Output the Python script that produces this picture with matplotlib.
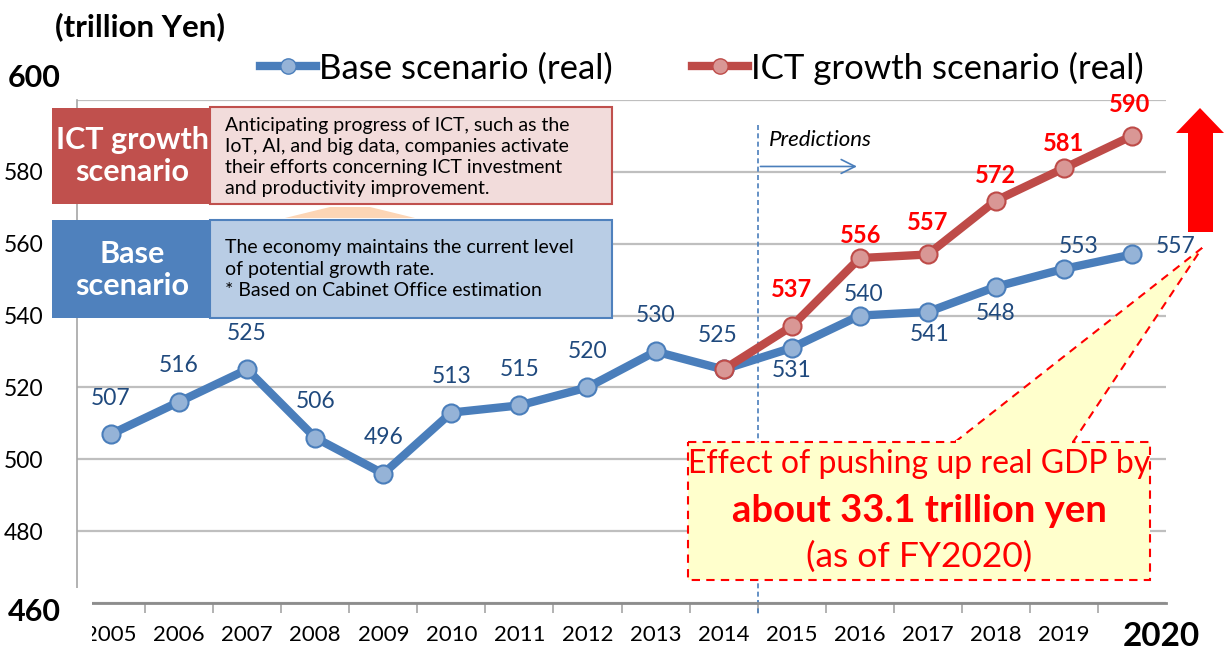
import numpy as np
import matplotlib.pyplot as plt
from matplotlib.patches import Rectangle, Polygon
from matplotlib.lines import Line2D

plt.rcParams['font.family'] = ['Lato', 'DejaVu Sans']

years = [str(y) for y in range(2005, 2021)]
base = [507, 516, 525, 506, 496, 513, 515, 520, 530, 525, 531, 540, 541, 548, 553, 557]
ict_years = [str(y) for y in range(2014, 2021)]
ict = [525, 537, 556, 557, 572, 581, 590]

# label offsets from each point, in pixels (dx, dy up)
base_off = [(0, 36)] * 9 + [(-6, 34), (0, -23), (4, 21), (2, -23), (0, -27), (15, 22), (44, 8)]
ict_off = [(0, 37), (1, 23), (0, 32), (0, 25), (0, 25), (-2, 31)]

BLUE = '#4A7EBB'
BLUE_FACE = '#95B3D7'
RED = '#BE4B48'
RED_FACE = '#D99795'
NAVY = '#1F497D'

W, H = 1227, 655
fig = plt.figure(figsize=(W / 100, H / 100), dpi=100)
ax = fig.add_axes([77 / W, 1 - 603 / H, (1166 - 77) / W, (603 - 100) / H])

x = np.arange(len(years))
xi = np.arange(years.index(ict_years[0]), len(years))

ax.plot(x, base, color=BLUE, lw=6, marker='o', ms=13, mfc=BLUE_FACE, mec=BLUE, mew=1.5,
        zorder=4, solid_capstyle='round')
ax.plot(xi, ict, color=RED, lw=6, marker='o', ms=13, mfc=RED_FACE, mec=RED, mew=1.5,
        zorder=5, solid_capstyle='round')

for xv, v, (dx, dy) in zip(x, base, base_off):
    ax.annotate(str(v), (xv, v), xytext=(dx * 0.72, dy * 0.72), textcoords='offset points',
                ha='center', va='center', fontsize=16.5, color=NAVY)
for xv, v, (dx, dy) in zip(xi[1:], ict[1:], ict_off):
    ax.annotate(str(v), (xv, v), xytext=(dx * 0.72, dy * 0.72), textcoords='offset points',
                ha='center', va='center', fontsize=17, color='red', fontweight='bold')

ax.set_xlim(-0.5, len(years) - 0.5)
ax.set_ylim(460, 600)
ax.set_yticks(range(460, 601, 20))
ax.set_yticklabels([''] + [str(v) for v in range(480, 600, 20)] + [''])
ax.tick_params(axis='y', length=0, labelsize=16.5, pad=24)
ax.grid(axis='y', color='#BFBFBF', lw=1.6)
ax.set_axisbelow(True)
ax.set_xticks(x)
ax.set_xticklabels(years[:-1] + [''])
ax.set_xticks(x[:-1] + 0.5, minor=True)
ax.tick_params(axis='x', which='major', length=0, labelsize=16, pad=16)
ax.tick_params(axis='x', which='minor', length=7, width=1.2, color='#A6A6A6')
for s in ['top', 'right']:
    ax.spines[s].set_visible(False)
ax.spines['bottom'].set_color('#8C8C8C')
ax.spines['bottom'].set_linewidth(2)
ax.spines['left'].set_color('#A6A6A6')
ax.spines['left'].set_linewidth(1.2)

# predictions marker
ax.plot([9.5, 9.5], [593, 457], color=BLUE, lw=1.2, ls=(0, (3, 2)), clip_on=False, zorder=2)
ax.text(9.66, 589, 'Predictions', style='italic', fontsize=16, ha='left', va='center')
ax.annotate('', xy=(11.0, 581.5), xytext=(9.5, 581.5),
            arrowprops=dict(arrowstyle='->', color=BLUE, lw=1.2, mutation_scale=25))

# overlay in pixel coordinates
ov = fig.add_axes([0, 0, 1, 1], zorder=10)
ov.set_xlim(0, W)
ov.set_ylim(H, 0)
ov.axis('off')

ov.text(55, 27, '(trillion Yen)', fontsize=22.5, fontweight='bold', ha='left', va='center')
ov.text(8, 78, '600', fontsize=22, fontweight='bold', ha='left', va='center')
ov.add_patch(Rectangle((0, 588), 92, 67, facecolor='white', edgecolor='none'))
ov.text(8, 612, '460', fontsize=22, fontweight='bold', ha='left', va='center')
ov.text(1161, 637, '2020', fontsize=24, fontweight='bold', ha='center', va='center')

# scenario boxes
ov.add_patch(Polygon([(285, 218), (330, 207), (370, 207), (415, 218)], closed=True,
                     facecolor='#FCD5B5', edgecolor='none'))
ov.add_patch(Rectangle((210, 107), 402, 97, facecolor='#F2DCDB', edgecolor='#C0504D', lw=1.5))
ov.add_patch(Rectangle((52, 108), 158, 96, facecolor='#C0504D', edgecolor='none'))
ov.text(132, 156, 'ICT growth\nscenario', color='white', fontsize=22, fontweight='bold',
        ha='center', va='center', linespacing=1.2)
ov.text(225, 157, 'Anticipating progress of ICT, such as the\nIoT, AI, and big data, companies activate\n'
        'their efforts concerning ICT investment\nand productivity improvement.',
        fontsize=14, ha='left', va='center', linespacing=1.3)

ov.add_patch(Rectangle((210, 220), 402, 98, facecolor='#B9CDE5', edgecolor='#4F81BD', lw=1.5))
ov.add_patch(Rectangle((52, 220), 158, 98, facecolor='#4F81BD', edgecolor='none'))
ov.text(132, 270, 'Base\nscenario', color='white', fontsize=22, fontweight='bold',
        ha='center', va='center', linespacing=1.2)
ov.text(225, 269, 'The economy maintains the current level\nof potential growth rate.\n'
        '* Based on Cabinet Office estimation',
        fontsize=14, ha='left', va='center', linespacing=1.3)

# callout
ov.add_patch(Polygon([(955, 442), (1202, 248), (1073, 442)], closed=True,
                     facecolor='#FFFFCC', edgecolor='red', lw=1.5, ls=(0, (4, 3))))
ov.add_patch(Rectangle((688, 442), 462, 138, facecolor='#FFFFCC', edgecolor='red',
                       lw=1.5, ls=(0, (4, 3))))
ov.add_patch(Rectangle((956, 440), 116, 4, facecolor='#FFFFCC', edgecolor='none'))
ov.text(919, 464, 'Effect of pushing up real GDP by', color='red', fontsize=23,
        ha='center', va='center')
ov.text(919, 511, 'about 33.1 trillion yen', color='red', fontsize=27.5, fontweight='bold',
        ha='center', va='center')
ov.text(919, 557, '(as of FY2020)', color='red', fontsize=25.5, ha='center', va='center')

# big red arrow
ov.add_patch(Polygon([(1188, 232), (1188, 133), (1176, 133), (1200, 108), (1224, 133),
                      (1213, 133), (1213, 232)], closed=True, facecolor='red', edgecolor='none'))

handles = [
    Line2D([], [], color=BLUE, lw=6, marker='o', ms=11, mfc=BLUE_FACE, mec=BLUE),
    Line2D([], [], color=RED, lw=6, marker='o', ms=11, mfc=RED_FACE, mec=RED),
]
fig.legend(handles, ['Base scenario (real)', 'ICT growth scenario (real)'], loc='center',
           bbox_to_anchor=(702 / W, 1 - 68 / H), ncol=2, frameon=False, fontsize=25,
           handlelength=1.6, handletextpad=0.1, columnspacing=2.28)

fig.savefig('out.png', dpi=100)
